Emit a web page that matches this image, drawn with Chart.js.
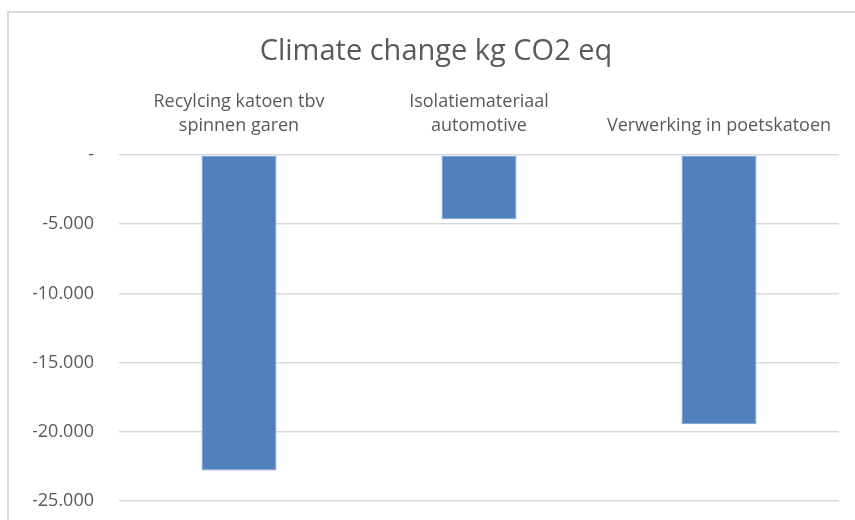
<!DOCTYPE html>
<html>
<head>
<meta charset="utf-8">
<script src="https://cdn.jsdelivr.net/npm/chart.js@4/dist/chart.umd.min.js"></script>
<style>
  html, body { margin: 0; padding: 0; background: #ffffff; overflow: hidden; }
  #wrap { width: 855px; height: 520px; position: relative; }
</style>
</head>
<body>
<div id="wrap"><canvas id="c" width="855" height="520"></canvas></div>
<script>
// Categories (multi-line where the label wraps) and climate change results
const categories = [
  ['Recylcing katoen tbv', 'spinnen garen'],
  ['Isolatiemateriaal', 'automotive'],
  'Verwerking in poetskatoen'
];
const climateChange = [-22800, -4650, -19450];
const axisMin = -25000;
const axisMax = 0;
const axisStep = 5000;

const textColor = '#595959';
const fontFamily = '"Open Sans", "Liberation Sans", sans-serif';

// Excel-style number format: thousands with dots, zero shown as "-"
function formatTick(v) {
  if (v === 0) return '-';
  const s = Math.abs(v).toFixed(0).replace(/\B(?=(\d{3})+(?!\d))/g, '.');
  return (v < 0 ? '-' : '') + s;
}

// Light grey chart frame along the top and left edges
const framePlugin = {
  id: 'frame',
  beforeDraw(chart) {
    const ctx = chart.ctx;
    ctx.save();
    ctx.fillStyle = '#d9d9d9';
    ctx.fillRect(7, 11, 2, chart.height - 11);
    ctx.fillRect(7, 11, chart.width - 7, 2);
    ctx.restore();
  }
};

new Chart(document.getElementById('c'), {
  type: 'bar',
  data: {
    labels: categories,
    datasets: [{
      data: climateChange,
      backgroundColor: '#4f81bd',
      borderColor: '#7da0d0',
      borderWidth: 1,
      borderSkipped: false,
      barPercentage: 0.3125,
      categoryPercentage: 1.0
    }]
  },
  options: {
    responsive: false,
    animation: false,
    layout: { padding: { left: 33, right: 16, top: 0, bottom: 19 } },
    plugins: {
      legend: { display: false },
      tooltip: { enabled: false },
      title: {
        display: true,
        text: 'Climate change kg CO2 eq',
        color: textColor,
        font: { family: fontFamily, size: 29, weight: 'normal', lineHeight: 1.2 },
        padding: { top: 34, bottom: 8 }
      }
    },
    scales: {
      x: {
        position: 'top',
        grid: { display: false, drawTicks: false },
        border: { display: false },
        ticks: {
          color: textColor,
          font: { family: fontFamily, size: 18, lineHeight: 1.333 },
          padding: 17,
          maxRotation: 0,
          autoSkip: false
        },
        afterFit(scale) { scale.height = 155 - 76.8; }
      },
      y: {
        min: axisMin,
        max: axisMax,
        grid: { color: '#d9d9d9', lineWidth: 1.5, drawTicks: false },
        border: { display: false },
        ticks: {
          stepSize: axisStep,
          color: textColor,
          font: { family: fontFamily, size: 18 },
          padding: 25,
          callback: (v) => formatTick(v)
        },
        afterFit(scale) {
          scale.width = 86;
          scale.paddingTop = 0;
          scale.paddingBottom = 0;
        }
      }
    }
  },
  plugins: [framePlugin]
});
</script>
</body>
</html>
